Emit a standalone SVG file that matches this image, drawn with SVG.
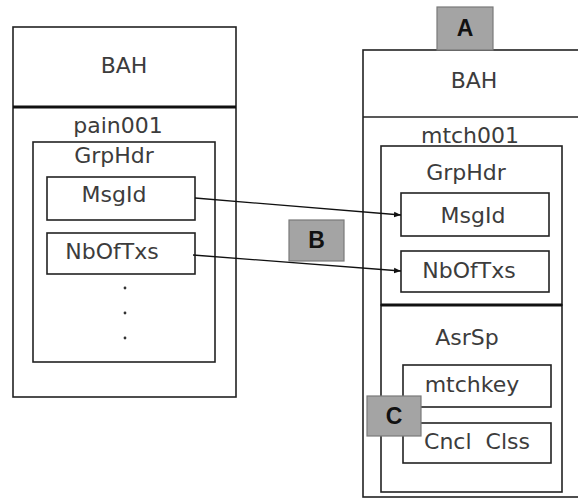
<svg xmlns="http://www.w3.org/2000/svg" width="578" height="499" viewBox="0 0 578 499">
<style>
.box{fill:#fff;stroke:#222;stroke-width:1.6}
.thick{stroke:#111;stroke-width:2.8}
.t{font-family:"DejaVu Sans","Liberation Sans",sans-serif;font-size:22px;fill:#3c3c3c;text-anchor:middle}
.tag{fill:#a4a4a4;stroke:#7a7a7a;stroke-width:1.2}
.tagt{font-family:"Liberation Sans",Arial,sans-serif;font-size:23px;font-weight:bold;fill:#111;text-anchor:middle}
.conn{stroke:#111;stroke-width:1.3;fill:none;marker-end:url(#ah)}
</style>
<defs>
<marker id="ah" viewBox="0 0 10 10" refX="10" refY="5" markerWidth="7" markerHeight="7" markerUnits="userSpaceOnUse" orient="auto">
<path d="M0,1 L10,5 L0,9 z" fill="#111"/>
</marker>
</defs>
<rect width="578" height="499" fill="#fff"/>

<g id="left-msg">
<rect class="box" x="13" y="27" width="223" height="370"/>
<text class="t" x="124" y="73">BAH</text>
<line class="thick" x1="13" y1="107" x2="236" y2="107"/>
<text class="t" x="118" y="133">pain001</text>
</g>
<g id="left-grphdr">
<rect class="box" x="33" y="142" width="182" height="220"/>
<text class="t" x="114" y="163">GrpHdr</text>
</g>
<g id="left-msgid">
<rect class="box" x="47" y="177" width="148" height="43"/>
<text class="t" x="114" y="202">MsgId</text>
</g>
<g id="left-nboftxs">
<rect class="box" x="47" y="233" width="148" height="41"/>
<text class="t" x="112" y="259">NbOfTxs</text>
</g>
<g id="left-dots" fill="#333">
<circle cx="125" cy="288" r="1.4"/>
<circle cx="125" cy="313" r="1.4"/>
<circle cx="125" cy="338" r="1.4"/>
</g>

<g id="right-msg">
<rect class="box" x="363" y="50" width="240" height="447"/>
<text class="t" x="474" y="88">BAH</text>
<line x1="363" y1="117" x2="578" y2="117" stroke="#222" stroke-width="1.6"/>
<text class="t" x="470" y="143">mtch001</text>
</g>
<g id="right-grphdr">
<rect class="box" x="381" y="146" width="181" height="159"/>
<text class="t" x="466" y="180">GrpHdr</text>
</g>
<g id="right-msgid">
<rect class="box" x="401" y="193" width="148" height="43"/>
<text class="t" x="473" y="223">MsgId</text>
</g>
<g id="right-nboftxs">
<rect class="box" x="401" y="251" width="148" height="41"/>
<text class="t" x="469" y="278">NbOfTxs</text>
</g>
<g id="right-asrsp">
<rect class="box" x="381" y="305" width="181" height="187"/>
<line class="thick" x1="381" y1="305" x2="562" y2="305"/>
<text class="t" x="467" y="345">AsrSp</text>
</g>
<g id="right-mtchkey">
<rect class="box" x="403" y="365" width="148" height="42"/>
<text class="t" x="472" y="392">mtchkey</text>
</g>
<g id="right-cnclclss">
<rect class="box" x="403" y="423" width="148" height="40"/>
<text class="t" x="477" y="449">Cncl&#160; Clss</text>
</g>

<g id="connectors">
<line class="conn" x1="195" y1="198" x2="401" y2="215"/>
<line class="conn" x1="193" y1="255" x2="401" y2="271"/>
</g>

<g id="tag-a">
<rect class="tag" x="437" y="7" width="56" height="43"/>
<text class="tagt" x="465" y="36">A</text>
</g>
<g id="tag-b">
<rect class="tag" x="289" y="220" width="55" height="41"/>
<text class="tagt" x="316.5" y="248">B</text>
</g>
<g id="tag-c">
<rect class="tag" x="367" y="396" width="54" height="40"/>
<text class="tagt" x="394" y="424">C</text>
</g>
</svg>
